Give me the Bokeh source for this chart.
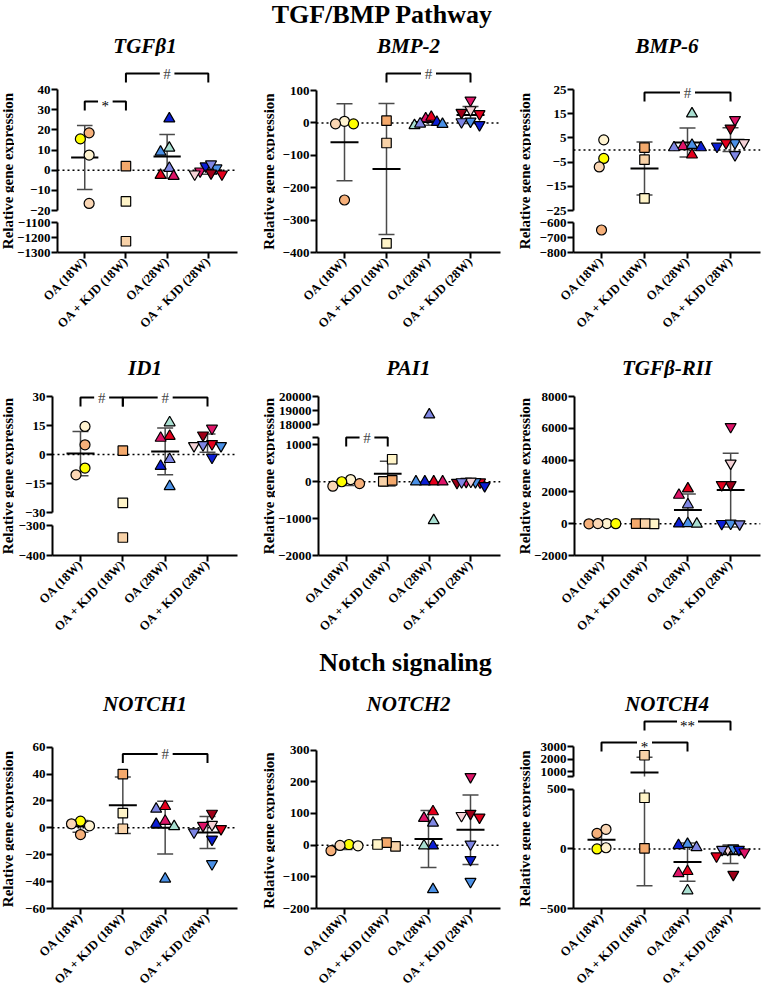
import math
import numpy as np
from bokeh.plotting import figure
from bokeh.layouts import column, row
from bokeh.models import Range1d, FixedTicker, Span, ColumnDataSource
from bokeh.core.properties import value
from bokeh.embed import file_html
from bokeh.resources import INLINE

# ---------------- data ----------------
categories = ["OA (18W)", "OA + KJD (18W)", "OA (28W)", "OA + KJD (28W)"]
section_titles = ["TGF/BMP Pathway", "Notch signaling"]
y_title = "Relative gene expression"

tgfb1_values = [[15.5, 18.5, 7.5, -16.5], [2, -15.5, -1225], [11, 25.5, 9, 1, -3, -2.5], [1, -2, -0.5, -2, 2, 3, -1.5]]
tgfb1_colors = [["ye", "pe", "cr", "lp"], ["or", "lc", "lq"], ["te", "bl", "lb", "sl", "cm", "rd"], ["lb", "rd", "cm", "pp", "bl", "sl", "dr"]]
tgfb1_ticks = [[-20, -10, 0, 10, 20, 30, 40], [-1300, -1200, -1100]]

bmp2_values = [[5, -3, -3, -238], [7, -62, -372], [13, 18, 2, -8, -4, -3], [70, 40, 28, 32, -6, 5, 3]]
bmp2_colors = [["cr", "lp", "ye", "pe"], ["or", "lq", "lc"], ["cm", "rd", "bl", "te", "lb", "sl"], ["cm", "pp", "rd", "dr", "bl", "lb", "sl"]]
bmp2_ticks = [[-400, -300, -200, -100, 0, 100]]

bmp6_values = [[4.2, -3.5, -7, -650], [1, -4, -20], [15, 1.5, -2, 2, 1, 1], [12.5, 9, 3, 3, 3, 1.5, -2]]
bmp6_colors = [["cr", "ye", "lp", "pe"], ["or", "lq", "lc"], ["te", "cm", "rd", "lb", "bl", "sl"], ["cm", "dr", "lb", "rd", "pp", "bl", "sl"]]
bmp6_ticks = [[-25, -15, -5, 5, 15, 25], [-800, -700, -600]]

id1_values = [[14.5, 5, -7, -10.5], [2, -25, -340], [16.5, 9.5, 8.5, -2.5, -6, -16.5], [13.5, 10, 5.5, 4.5, 4.5, 5, -1.5]]
id1_colors = [["cr", "pe", "ye", "lp"], ["or", "lc", "lq"], ["te", "rd", "cm", "sl", "bl", "lb"], ["cm", "dr", "rd", "lb", "pp", "sl", "bl"]]
id1_ticks = [[-30, -15, 0, 15, 30], [-400, -300]]

pai1_values = [[60, -120, 0, -50], [610, 10, 40], [18700, 0, 0, 0, 0, -1050], [-10, 5, -20, 0, 10, -5, -110]]
pai1_colors = [["cr", "lp", "ye", "pe"], ["lc", "lq", "or"], ["sl", "rd", "bl", "cm", "lb", "te"], ["rd", "cm", "dr", "lb", "pp", "sl", "bl"]]
pai1_ticks = [[18000, 19000, 20000], [-2000, -1000, 0, 1000, 1200]]

tgfbr2_values = [[10, -5, 0, 5], [5, -5, 10], [2200, 1800, 1200, 0, 20, -20], [6100, 3800, 2450, 2450, 0, 20, -20]]
tgfbr2_colors = [["cr", "pe", "ye", "lp"], ["or", "lc", "lq"], ["rd", "cm", "sl", "bl", "lb", "te"], ["cm", "pp", "dr", "rd", "bl", "lb", "sl"]]
tgfbr2_ticks = [[-2000, 0, 2000, 4000, 6000, 8000]]

notch1_values = [[5, 1.5, 3, -5], [40, 11, -0.7], [14, 16, 5, 1, 2.7, -38], [10.7, 2.4, 1.7, -0.7, -3.2, -8.5, -26.8]]
notch1_colors = [["ye", "cr", "lp", "pe"], ["or", "lc", "lq"], ["sl", "rd", "cm", "te", "bl", "lb"], ["dr", "pp", "cm", "rd", "sl", "bl", "lb"]]
notch1_ticks = [[-60, -40, -20, 0, 20, 40, 60]]

notch2_values = [[2, -17.5, -1, -2], [-4, 8, 2], [85, 106, 70, -2, -2, -140], [216, 100, 88, 93, 3, -46, -115]]
notch2_colors = [["ye", "pe", "lp", "cr"], ["lq", "or", "lc"], ["cm", "rd", "sl", "bl", "te", "lb"], ["cm", "dr", "rd", "pp", "sl", "bl", "lb"]]
notch2_ticks = [[-200, -100, 0, 100, 200, 300]]

notch4_values = [[130, 165, 0, 10], [2300, 430, 5], [40, 12, 30, -188, -205, -350], [-5, 5, -5, -5, -27, -60, -215]]
notch4_colors = [["pe", "lp", "ye", "cr"], ["lq", "lc", "or"], ["lb", "sl", "bl", "rd", "cm", "te"], ["pp", "lb", "bl", "sl", "cm", "rd", "dr"]]
notch4_ticks = [[600, 1000, 2000, 3000], [-500, 0, 500]]

# ---------------- style ----------------
FONT = "Liberation Serif"
palette = {"cr": "#FFF3D0", "ye": "#FFFF00", "pe": "#F6B07A", "lp": "#FAD6B4", "or": "#F4A96C",
           "lc": "#FFF4C8", "lq": "#F8D2A8", "te": "#A9DFD1", "sl": "#7E86E4", "bl": "#0B1ED4",
           "lb": "#4A90E6", "rd": "#E3001C", "cm": "#DE1468", "dr": "#9E0018", "pp": "#F5D2D6"}
markers = ["circle", "square", "triangle", "inverted_triangle"]
msizes = [10, 9.5, 11, 11]

# layout geometry (page pixel positions of axis ends etc.)
rows_geo = [dict(title_top=34, title_h=22, frame_top=56, axis_bottom=252, block_bottom=356),
            dict(title_top=356, title_h=22, frame_top=378, axis_bottom=555, block_bottom=649),
            dict(title_top=692, title_h=22, frame_top=714, axis_bottom=910, block_bottom=994)]
# label width, left border, frame width, right border, first tick offset, last tick offset
col_geo = [(14, 38, 185, 24, 28, 30), (14, 41, 184, 17, 28, 30), (14, 42, 187, 3, 28, 30)]

panels = [
    dict(name="TGFβ1", values=tgfb1_values, colors=tgfb1_colors, ticks=tgfb1_ticks,
         px=[(89, 210), (222, 252)], blanks=[[], []], brackets=[(2, 4, "#", 0, 16), (1, 2, "*", 0, -12)]),
    dict(name="BMP-2", values=bmp2_values, colors=bmp2_colors, ticks=bmp2_ticks,
         px=[(90, 252)], blanks=[[]], brackets=[(2, 4, "#", 0, 17)]),
    dict(name="BMP-6", values=bmp6_values, colors=bmp6_colors, ticks=bmp6_ticks,
         px=[(89, 210), (222, 252)], blanks=[[], []], brackets=[(2, 4, "#", 0, -3)]),
    dict(name="ID1", values=id1_values, colors=id1_colors, ticks=id1_ticks,
         px=[(396, 512), (525, 555)], blanks=[[], []], brackets=[(1, 2, "#", 0, -1), (2, 4, "#", 0, -1)]),
    dict(name="PAI1", values=pai1_values, colors=pai1_colors, ticks=pai1_ticks,
         px=[(396, 424), (437, 555)], blanks=[[], [1200]], brackets=[(1, 2, "#", 1, 0)]),
    dict(name="TGFβ-RII", values=tgfbr2_values, colors=tgfbr2_colors, ticks=tgfbr2_ticks,
         px=[(396, 555)], blanks=[[]], brackets=[]),
    dict(name="NOTCH1", values=notch1_values, colors=notch1_colors, ticks=notch1_ticks,
         px=[(747, 910)], blanks=[[]], brackets=[(2, 4, "#", 0, -7)]),
    dict(name="NOTCH2", values=notch2_values, colors=notch2_colors, ticks=notch2_ticks,
         px=[(750, 910)], blanks=[[]], brackets=[]),
    dict(name="NOTCH4", values=notch4_values, colors=notch4_colors, ticks=notch4_ticks,
         px=[(746, 776), (789, 910)], blanks=[[600], []], brackets=[(1, 3, "*", 0, 4), (2, 4, "**", 0, 25)]),
]


def text_fig(width, height, text, cx, cy_top, size, style, angle=0.0):
    p = figure(width=width, height=height, x_range=Range1d(0, width), y_range=Range1d(0, height),
               toolbar_location=None, output_backend="svg", x_axis_location=None, y_axis_location=None,
               min_border_left=0, min_border_right=0, min_border_top=0, min_border_bottom=0)
    p.outline_line_color = None
    p.grid.visible = False
    p.text(x=[cx], y=[height - cy_top], text=[text], angle=angle, text_align="center",
           text_baseline="middle", text_font=value(FONT), text_font_size=size,
           text_font_style=style, text_color="black")
    return p


def swarm(vals, ppx, ppy, d=9.0, step=4.5, max_half=14.0):
    order = sorted(range(len(vals)), key=lambda i: -vals[i])
    placed = []
    offs = [0.0] * len(vals)
    cands = [0.0]
    for j in range(1, 25):
        cands += [-j * step, j * step]
    for i in order:
        y = vals[i] * ppy
        chosen = cands[-1]
        for c in cands:
            if all((c - px) ** 2 + (y - py) ** 2 >= d * d for px, py in placed):
                chosen = c
                break
        placed.append((chosen, y))
        offs[i] = chosen
    # centre the spread and keep it inside the column width
    if offs:
        mid = (max(offs) + min(offs)) / 2.0
        offs = [o - mid for o in offs]
        ext = max(abs(o) for o in offs)
        if ext > max_half:
            offs = [o * max_half / ext for o in offs]
    return [o / ppx for o in offs]


def style_axis(ax):
    ax.axis_line_width = 2
    ax.axis_line_color = "black"
    ax.major_tick_line_width = 2
    ax.major_tick_line_color = "black"
    ax.major_tick_out = 6
    ax.major_tick_in = 0
    ax.minor_tick_out = 0
    ax.minor_tick_in = 0
    ax.major_label_text_font = FONT
    ax.major_label_text_font_style = "bold"
    ax.major_label_text_color = "black"


def build_panel(spec, geo, rg):
    lw, bl, fw, rr, first, last = geo
    spacing = (fw - first - last) / 3.0
    x0 = 1 - first / spacing
    x1 = x0 + fw / spacing
    W = bl + fw + rr
    ftop, abot, bbot = rg["frame_top"], rg["axis_bottom"], rg["block_bottom"]
    segs = spec["px"]
    nseg = len(segs)
    if nseg == 2:
        split = int(round((segs[0][1] + segs[1][0]) / 2))
        fbounds = [(ftop, split), (split, abot)]
    else:
        fbounds = [(ftop, abot)]
    vals = spec["values"]
    cols = spec["colors"]
    means = [float(np.mean(v)) for v in vals]
    sds = [float(np.std(v, ddof=1)) for v in vals]
    lims = [(min(t), max(t)) for t in spec["ticks"]]
    homes = []
    for m in means:
        h = None
        for k, (lo, hi) in enumerate(lims):
            if lo <= m <= hi:
                h = k
        homes.append(h)

    figs = []
    for k in range(nseg):
        lo, hi = lims[k]
        tpx, bpx = segs[k]
        ppu = (bpx - tpx) / (hi - lo)
        f_t, f_b = fbounds[k]
        y_end = hi + (tpx - f_t) / ppu
        y_start = lo - (f_b - bpx) / ppu
        last_seg = (k == nseg - 1)
        h = (bbot if last_seg else f_b) - f_t
        p = figure(width=W, height=h, x_range=Range1d(x0, x1), y_range=Range1d(y_start, y_end),
                   toolbar_location=None, output_backend="svg",
                   x_axis_location="below" if last_seg else None, y_axis_location="left",
                   min_border_left=bl, min_border_right=rr, min_border_top=0,
                   min_border_bottom=(bbot - abot) if last_seg else 0)
        p.outline_line_color = None
        p.grid.visible = False
        p.background_fill_color = "white"
        p.border_fill_color = "white"

        yax = p.yaxis[0]
        style_axis(yax)
        yax.ticker = FixedTicker(ticks=spec["ticks"][k])
        yax.bounds = (lo, hi)
        yax.major_label_standoff = 1
        yax.major_label_text_font_size = "13px"
        if spec["blanks"][k]:
            yax.major_label_overrides = {t: "" for t in spec["blanks"][k]}
        if last_seg:
            xax = p.xaxis[0]
            style_axis(xax)
            xax.ticker = FixedTicker(ticks=[1, 2, 3, 4])
            xax.major_label_overrides = {i + 1: c for i, c in enumerate(categories)}
            xax.major_label_orientation = math.pi / 4
            xax.major_label_standoff = 1
            xax.major_label_text_font_size = "12.5px"

        if lo <= 0 <= hi:
            p.add_layout(Span(location=0, dimension="width", line_color="black", line_width=1.5,
                              line_dash="2 3", level="underlay"))

        # mean and SD (clipped to this axis segment)
        mw = 14.0 / spacing
        cw = 8.0 / spacing
        for gi in range(4):
            if homes[gi] is None:
                continue
            m, s = means[gi], sds[gi]
            x = gi + 1
            a, b = max(m - s, lo), min(m + s, hi)
            if a < b:
                p.segment(x0=[x], y0=[a], x1=[x], y1=[b], line_color="#4a4a4a", line_width=1.5)
            caps = [c for c in (m - s, m + s) if lo <= c <= hi]
            if caps:
                p.segment(x0=[x - cw] * len(caps), y0=caps, x1=[x + cw] * len(caps), y1=caps,
                          line_color="#4a4a4a", line_width=1.5)
            if homes[gi] == k:
                p.segment(x0=[x - mw], y0=[m], x1=[x + mw], y1=[m], line_color="black", line_width=2)

        # points
        tol = 0.02 * (hi - lo)
        for gi in range(4):
            sel = [i for i, v in enumerate(vals[gi]) if lo - tol <= v <= hi + tol]
            if not sel:
                continue
            yv = [vals[gi][i] for i in sel]
            offs = swarm(yv, spacing, ppu)
            src = ColumnDataSource(dict(x=[gi + 1 + o for o in offs], y=yv,
                                        c=[palette[cols[gi][i]] for i in sel]))
            p.scatter(x="x", y="y", source=src, marker=markers[gi], size=msizes[gi],
                      fill_color="c", line_color="black", line_width=1.2)

        # significance brackets
        for (ga, gb, sym, sk, off) in spec["brackets"]:
            if sk != k:
                continue
            yb = hi + off / ppu
            leg = 9.0 / ppu
            gap = (4.5 + 3.0 * len(sym)) / spacing
            xm = (ga + gb) / 2.0
            p.multi_line(xs=[[ga, ga, xm - gap], [xm + gap, gb, gb]],
                         ys=[[yb - leg, yb, yb], [yb, yb, yb - leg]],
                         line_color="black", line_width=2)
            star = "*" in sym
            yt = yb - (4.0 / ppu if star else 0.0)
            p.text(x=[xm], y=[yt], text=[sym], text_align="center", text_baseline="middle",
                   text_font=value(FONT), text_font_size="15px",
                   text_color="black" if star else "#444444")
        figs.append(p)

    axis_top = segs[0][0]
    total_h = bbot - ftop
    lab = figure(width=lw, height=total_h, x_range=Range1d(0, 1), y_range=Range1d(0, 1),
                 toolbar_location=None, output_backend="svg", x_axis_location=None, y_axis_location=None,
                 min_border_left=0, min_border_right=0, min_border_top=axis_top - ftop,
                 min_border_bottom=bbot - abot)
    lab.outline_line_color = None
    lab.grid.visible = False
    lab.text(x=[0.5], y=[0.5], text=[y_title], angle=math.pi / 2, text_align="center",
             text_baseline="middle", text_font=value(FONT), text_font_size="15px",
             text_font_style="bold", text_color="black")

    title = text_fig(lw + W, rg["title_h"], spec["name"], lw + bl + fw / 2.0, rg["title_h"] / 2.0,
                     "21px", "bold italic")
    return column(title, row(lab, column(*figs, spacing=0), spacing=0), spacing=0)


rows_out = []
for r in range(3):
    prs = []
    for c in range(3):
        prs.append(build_panel(panels[r * 3 + c], col_geo[c], rows_geo[r]))
    rows_out.append(row(*prs, spacing=0))

total_w = sum(g[0] + g[1] + g[2] + g[3] for g in col_geo)
sec1 = text_fig(total_w, 34, section_titles[0], 382, 14, "26px", "bold")
sec2 = text_fig(total_w, 43, section_titles[1], 405, 13, "26px", "bold")

page = column(sec1, rows_out[0], rows_out[1], sec2, rows_out[2], spacing=0)

with open("out.html", "w") as f:
    f.write(file_html(page, INLINE, title="TGF/BMP and Notch"))
